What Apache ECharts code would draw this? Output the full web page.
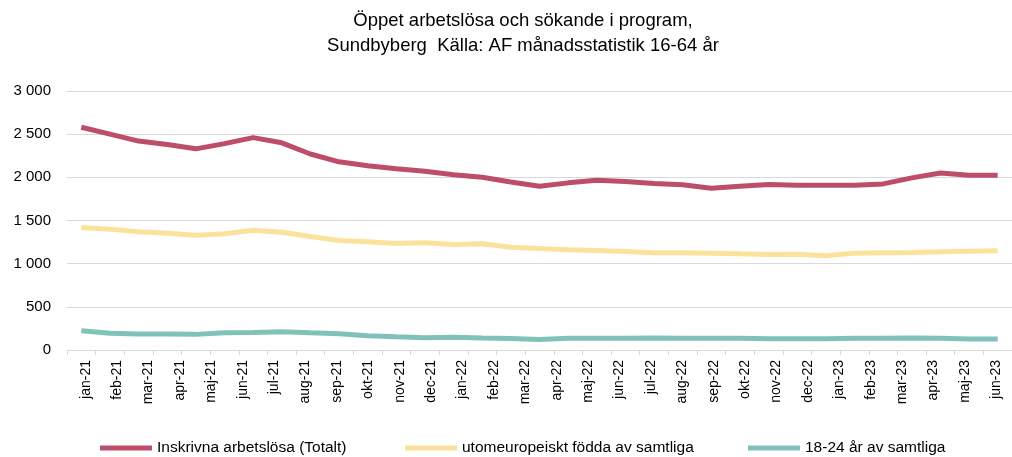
<!DOCTYPE html>
<html>
<head>
<meta charset="utf-8">
<script src="https://cdn.jsdelivr.net/npm/echarts@6/dist/echarts.min.js"></script>
<style>
  html, body { margin: 0; padding: 0; background: #fff; }
  #chart { width: 1012px; height: 457px; }
</style>
</head>
<body>
<div id="chart"></div>
<script>
// month labels printed under the axis
const monthLabels = ['jan-21', 'feb-21', 'mar-21', 'apr-21', 'maj-21', 'jun-21', 'jul-21', 'aug-21',
  'sep-21', 'okt-21', 'nov-21', 'dec-21', 'jan-22', 'feb-22', 'mar-22', 'apr-22', 'maj-22', 'jun-22',
  'jul-22', 'aug-22', 'sep-22', 'okt-22', 'nov-22', 'dec-22', 'jan-23', 'feb-23', 'mar-23', 'apr-23',
  'maj-23', 'jun-23']

// the lines have 33 points on the tick grid (one per tick step)
const totalt = [2580, 2500, 2420, 2380, 2330, 2390, 2460, 2400, 2270, 2180, 2135, 2100, 2070, 2030,
  2000, 1945, 1897, 1936, 1967, 1951, 1928, 1913, 1874, 1897, 1916, 1909, 1909, 1909, 1924, 1994,
  2051, 2024, 2024]
const utomeuropeiskt = [1419, 1400, 1369, 1353, 1330, 1346, 1388, 1365, 1315, 1269, 1253, 1234, 1242,
  1222, 1230, 1190, 1176, 1161, 1153, 1141, 1126, 1126, 1122, 1114, 1107, 1110, 1091, 1122, 1126,
  1130, 1137, 1145, 1149]
const unga = [224, 193, 185, 185, 181, 200, 204, 212, 200, 189, 166, 154, 143, 147, 139, 133, 123,
  135, 135, 135, 139, 135, 135, 135, 131, 131, 131, 135, 135, 139, 135, 127, 127]

const seriesNames = ['Inskrivna arbetslösa (Totalt)', 'utomeuropeiskt födda av samtliga', '18-24 år av samtliga']
const colors = ['#be4d6a', '#fbe29b', '#80c1b9']

const steps = totalt.map((v, i) => String(i + 1))

const chart = echarts.init(document.getElementById('chart'))

const legendFont = { fontFamily: '"Liberation Sans Narrow", "Liberation Sans", Arial, sans-serif', fontSize: 15.5, color: '#000' }
const legendPos = [95, 400, 743]

chart.setOption({
  animation: false,
  title: {
    text: 'Öppet arbetslösa och sökande i program,\nSundbyberg  Källa: AF månadsstatistik 16-64 år',
    left: 518,
    textAlign: 'center',
    top: 3,
    textStyle: {
      fontFamily: '"Liberation Sans", Arial, sans-serif',
      fontSize: 18.5,
      fontWeight: 'normal',
      color: '#000',
      lineHeight: 25
    }
  },
  legend: seriesNames.map((n, i) => ({
    data: [n],
    left: legendPos[i],
    top: 435,
    icon: 'rect',
    itemWidth: 52,
    itemHeight: 5,
    itemGap: 0,
    textStyle: legendFont
  })),
  grid: [
    { left: 67, width: 947, top: 91, bottom: 107 },
    { left: 70, width: 948, top: 91, bottom: 107 }
  ],
  xAxis: [
    {
      gridIndex: 0,
      type: 'category',
      data: steps,
      boundaryGap: true,
      axisLine: { lineStyle: { color: '#d9d9d9', width: 1 } },
      axisTick: { show: true, length: 5, lineStyle: { color: '#d9d9d9' } },
      axisLabel: { show: false }
    },
    {
      gridIndex: 1,
      type: 'category',
      data: monthLabels,
      boundaryGap: true,
      axisLine: { show: false },
      axisTick: { show: false },
      axisLabel: {
        interval: 0,
        rotate: 90,
        margin: 10,
        fontFamily: '"Liberation Sans", Arial, sans-serif',
        fontSize: 14,
        color: '#000'
      }
    }
  ],
  yAxis: [
    {
      gridIndex: 0,
      type: 'value',
      min: 0,
      max: 3000,
      interval: 500,
      axisLine: { show: false },
      axisTick: { show: false },
      splitLine: { lineStyle: { color: '#d9d9d9', width: 1 } },
      axisLabel: {
        margin: 16,
        fontFamily: '"Liberation Sans", Arial, sans-serif',
        fontSize: 15,
        color: '#000',
        formatter: v => String(v).replace(/\B(?=(\d{3})+(?!\d))/g, ' ')
      }
    },
    { gridIndex: 1, type: 'value', min: 0, max: 3000, show: false }
  ],
  series: [totalt, utomeuropeiskt, unga].map((d, i) => ({
    name: seriesNames[i],
    type: 'line',
    xAxisIndex: 0,
    yAxisIndex: 0,
    data: d,
    symbol: 'none',
    color: colors[i],
    lineStyle: { width: 5, color: colors[i] },
    z: 3 - i
  }))
})
</script>
</body>
</html>
